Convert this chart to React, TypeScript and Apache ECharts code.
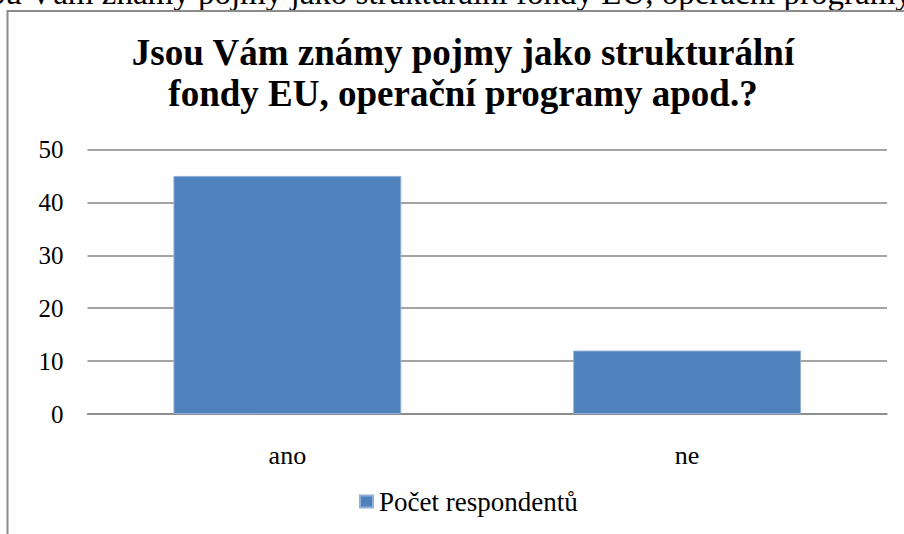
import React, { useEffect, useRef } from "react";
import * as echarts from "echarts";

const categories = ["ano", "ne"];
const values = [45, 12];
const seriesName = "Počet respondentů";
const titleText = "Jsou Vám známy pojmy jako strukturální\nfondy EU, operační programy apod.?";
const pageText = "Jsou Vám známy pojmy jako strukturální fondy EU, operační programy apod.?";

const FONT = "Liberation Serif";

export default function App() {
  const ref = useRef<HTMLDivElement>(null);
  useEffect(() => {
    if (!ref.current) return;
    const chart = echarts.init(ref.current, null, { renderer: "svg" });
    chart.setOption({
      animation: false,
      backgroundColor: "#ffffff",
      textStyle: { fontFamily: FONT },
      title: {
        text: titleText,
        left: 458,
        top: 27,
        textAlign: "center",
        textStyle: {
          fontFamily: FONT,
          fontSize: 37,
          fontWeight: "bold",
          color: "#000",
          lineHeight: 41,
        },
      },
      graphic: [
        {
          type: "text",
          x: -37,
          y: -24,
          silent: true,
          style: {
            text: pageText,
            fontFamily: FONT,
            fontSize: 33,
            fill: "#000",
          },
        },
        {
          type: "polyline",
          silent: true,
          shape: { points: [[7.5, 534], [7.5, 11], [904, 11]] },
          style: { stroke: "#8c8c8c", lineWidth: 2, fill: "none" },
        },
      ],
      legend: {
        data: [seriesName],
        left: 359,
        top: 488,
        padding: 0,
        itemWidth: 13,
        itemHeight: 12,
        itemGap: 6,
        icon: "rect",
        textStyle: { fontFamily: FONT, fontSize: 27, color: "#000", padding: [0, 0, 0, 1] },
      },
      grid: { left: 87.5, right: 17, top: 149.5, bottom: 120, containLabel: false },
      xAxis: {
        type: "category",
        data: categories,
        axisLine: { show: true, lineStyle: { color: "#868686", width: 1.5 } },
        axisTick: { show: false },
        axisLabel: { fontFamily: FONT, fontSize: 26, color: "#000", margin: 28 },
      },
      yAxis: {
        type: "value",
        min: 0,
        max: 50,
        interval: 10,
        axisLine: { show: false },
        axisTick: { show: false },
        splitLine: { lineStyle: { color: "#868686", width: 1.5 } },
        axisLabel: { fontFamily: FONT, fontSize: 25, color: "#000", margin: 24 },
      },
      series: [
        {
          name: seriesName,
          type: "bar",
          data: values,
          barWidth: "57%",
          itemStyle: { color: "#4f81bd", borderColor: "#8fb0d8", borderWidth: 1 },
        },
      ],
    });
    return () => chart.dispose();
  }, []);
  return (
    <div
      ref={ref}
      style={{ position: "fixed", left: 0, top: 0, width: 904, height: 534 }}
    />
  );
}
